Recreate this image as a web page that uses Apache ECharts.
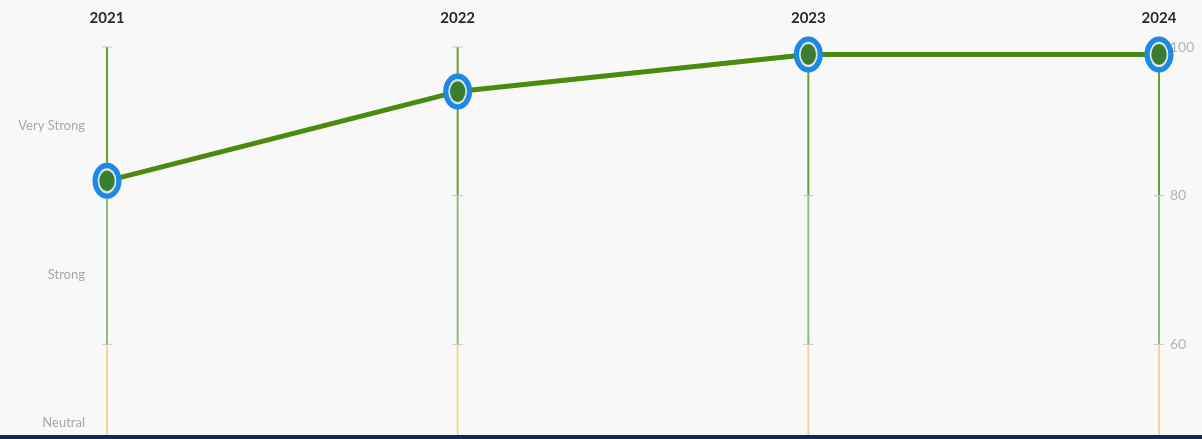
<!DOCTYPE html>
<html>
<head>
<meta charset="utf-8">
<script src="https://cdn.jsdelivr.net/npm/echarts@6/dist/echarts.min.js"></script>
<style>
  html, body { margin: 0; padding: 0; background: #f8f8f8; overflow: hidden; height: 439px; }
  /* chart is taller than the window: the bottom band is cut off like in the original */
  #chart { width: 1202px; height: 500px; }
  #band { position: fixed; left: 0; bottom: 0; width: 1202px; height: 4px; background: #0e2a58; z-index: 5; }
</style>
</head>
<body>
<div id="chart"></div>
<div id="band"></div>
<script>
// years on top
var years = ['2021', '2022', '2023', '2024'];
// score per year
var scores = [82, 94, 99, 99];
// band edges of each vertical axis (top -> bottom)
var bandEdges = [100, 80, 60, 40];
// labels on the left, placed in the middle of each band
var bandLabels = { 90: 'Very Strong', 70: 'Strong', 50: 'Neutral' };

var bandColors = ['#6b9d35', '#93b784', '#ecd89c'];

// segments for every year axis: [yearIndex, from, to, band]
var segments = [];
years.forEach(function (y, i) {
  for (var b = 0; b < bandEdges.length - 1; b++) {
    segments.push([i, bandEdges[b], bandEdges[b + 1], b]);
  }
});

var chart = echarts.init(document.getElementById('chart'));

var option = {
  backgroundColor: '#f8f8f8',
  animation: false,
  grid: { left: 107, right: 43, top: 47, bottom: 6 },
  xAxis: {
    type: 'category',
    data: years,
    position: 'top',
    boundaryGap: false,
    axisLine: { show: false },
    axisTick: { show: false },
    splitLine: { show: false },
    axisLabel: {
      margin: 21,
      fontFamily: 'Lato',
      fontWeight: 'bold',
      fontSize: 15,
      color: '#2a2a2a'
    }
  },
  yAxis: [
    {
      type: 'value',
      position: 'right',
      min: 40,
      max: 100,
      interval: 20,
      axisLine: { show: false },
      axisTick: { show: false },
      splitLine: { show: false },
      axisLabel: { margin: 11, fontFamily: 'Lato', fontSize: 14, color: '#b4b4b4' }
    },
    {
      type: 'value',
      position: 'left',
      min: 40,
      max: 100,
      interval: 10,
      axisLine: { show: false },
      axisTick: { show: false },
      splitLine: { show: false },
      axisLabel: {
        margin: 22,
        verticalAlign: 'top',
        lineHeight: 9,
        fontFamily: 'Lato',
        fontSize: 13,
        color: '#a8a8a8',
        formatter: function (v) { return bandLabels[v] || ''; }
      }
    }
  ],
  series: [
    {
      // coloured vertical axes with ticks
      type: 'custom',
      data: segments,
      silent: true,
      z: 1,
      renderItem: function (params, api) {
        var p1 = api.coord([api.value(0), api.value(1)]);
        var p2 = api.coord([api.value(0), api.value(2)]);
        return {
          type: 'group',
          children: [
            {
              type: 'line',
              shape: { x1: p1[0], y1: p1[1], x2: p2[0], y2: p2[1] },
              style: { stroke: bandColors[api.value(3)], lineWidth: 2 }
            },
            {
              type: 'line',
              shape: { x1: p1[0] - 5, y1: p1[1], x2: p1[0] + 5, y2: p1[1] },
              style: { stroke: '#c4c4c4', lineWidth: 1 }
            }
          ]
        };
      }
    },
    {
      type: 'line',
      data: scores,
      z: 3,
      symbol: 'circle',
      symbolSize: [29, 36],
      lineStyle: { color: '#4a8a0c', width: 5 },
      itemStyle: { color: '#1e88e5' }
    },
    {
      type: 'scatter',
      data: scores,
      z: 4,
      symbol: 'circle',
      symbolSize: [17, 23],
      itemStyle: { color: '#427a02', borderColor: '#ffffff', borderWidth: 2 }
    }
  ]
};

chart.setOption(option);
</script>
</body>
</html>
